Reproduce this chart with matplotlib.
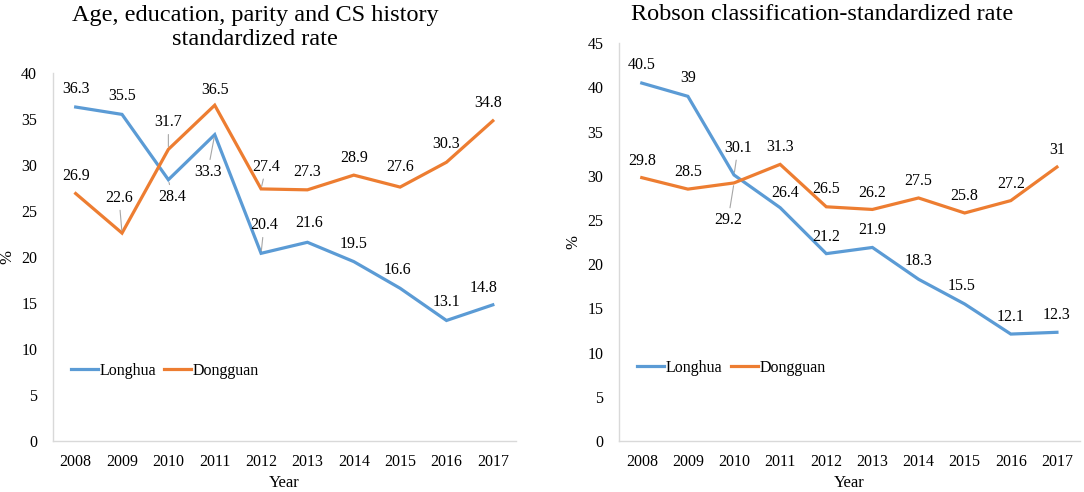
import matplotlib
matplotlib.use("Agg")
import matplotlib.pyplot as plt

plt.rcParams['font.family'] = ['Liberation Serif', 'DejaVu Serif']

# data
years = ['2008', '2009', '2010', '2011', '2012', '2013', '2014', '2015', '2016', '2017']

left_title = 'Age, education, parity and CS history\nstandardized rate'
left_longhua = [36.3, 35.5, 28.4, 33.3, 20.4, 21.6, 19.5, 16.6, 13.1, 14.8]
left_dongguan = [26.9, 22.6, 31.7, 36.5, 27.4, 27.3, 28.9, 27.6, 30.3, 34.8]

right_title = 'Robson classification-standardized rate'
right_longhua = [40.5, 39, 30.1, 26.4, 21.2, 21.9, 18.3, 15.5, 12.1, 12.3]
right_dongguan = [29.8, 28.5, 29.2, 31.3, 26.5, 26.2, 27.5, 25.8, 27.2, 31]

series_names = ['Longhua', 'Dongguan']

# label placement (pixels: dx, dy up) and which labels get a leader line
left_lh_off = [(0, 18), (0, 18), (4, -17), (-7, -37), (3, 28), (2, 19), (0, 18), (-3, 18), (0, 18), (-9, 17)]
left_dg_off = [(0, 18), (-3, 35), (0, 27), (0, 15), (5, 22), (0, 18), (0, 17), (0, 20), (0, 18), (-5, 18)]
left_lh_lead = [2, 3, 4]
left_dg_lead = [1, 2, 4]

right_lh_off = [(0, 18), (0, 18), (4, 27), (5, 15), (0, 17), (0, 17), (0, 18), (-3, 18), (0, 17), (0, 17)]
right_dg_off = [(0, 17), (0, 17), (-6, -37), (0, 17), (0, 18), (0, 16), (0, 17), (0, 17), (0, 17), (0, 17)]
right_lh_lead = [2]
right_dg_lead = [2]

blue = '#5B9BD5'
orange = '#ED7D31'
lead_col = '#A6A6A6'
fs = 11.5

fig = plt.figure(figsize=(10.84, 4.92), dpi=100)
W, H = 1084, 492
ax1 = fig.add_axes([52.5 / W, 51 / H, 463.5 / W, 368 / H])
ax2 = fig.add_axes([618.7 / W, 51 / H, 461.3 / W, 397.7 / H])


def label_points(ax, vals, offs, leads):
    for i, v in enumerate(vals):
        dx, dy = offs[i]
        kw = {}
        if i in leads:
            kw['arrowprops'] = dict(arrowstyle='-', color=lead_col, lw=0.8,
                                    shrinkA=1, shrinkB=2)
        ax.annotate('{:g}'.format(v), (i, v), xytext=(dx, dy),
                    textcoords='offset pixels', ha='center', va='center',
                    fontsize=fs, **kw)


def setup(ax, lh, dg, ymax, title, title_x, title_pad, lh_off, dg_off, lh_lead, dg_lead, leg_xy):
    x = range(len(years))
    ax.plot(x, lh, color=blue, lw=2.3, label=series_names[0], solid_joinstyle='miter')
    ax.plot(x, dg, color=orange, lw=2.3, label=series_names[1], solid_joinstyle='miter')
    label_points(ax, lh, lh_off, lh_lead)
    label_points(ax, dg, dg_off, dg_lead)
    ax.set_xlim(-0.5, len(years) - 0.5)
    ax.set_ylim(0, ymax)
    ax.set_yticks(range(0, ymax + 1, 5))
    ax.set_xticks(list(x))
    ax.set_xticklabels(years)
    ax.tick_params(length=0, labelsize=fs)
    ax.tick_params(axis='y', pad=11)
    ax.tick_params(axis='x', pad=9)
    for s in ['top', 'right']:
        ax.spines[s].set_visible(False)
    for s in ['left', 'bottom']:
        ax.spines[s].set_color('#D9D9D9')
        ax.spines[s].set_linewidth(1)
    ax.set_xlabel('Year', fontsize=12, labelpad=4)
    ax.set_ylabel('%', fontsize=12, labelpad=4)
    ax.set_title(title, fontsize=17.5, pad=title_pad, linespacing=1.2, x=title_x)
    ax.legend(loc='center left', bbox_to_anchor=leg_xy, ncol=2, frameon=False,
              fontsize=fs, handlelength=1.7, handletextpad=0.1,
              columnspacing=0.5, borderpad=0, borderaxespad=0)


setup(ax1, left_longhua, left_dongguan, 40, left_title, 0.437, 20,
      left_lh_off, left_dg_off, left_lh_lead, left_dg_lead, (0.039, 0.19))
setup(ax2, right_longhua, right_dongguan, 45, right_title, 0.441, 16.8,
      right_lh_off, right_dg_off, right_lh_lead, right_dg_lead, (0.040, 0.184))

fig.savefig('out.png', dpi=100)
